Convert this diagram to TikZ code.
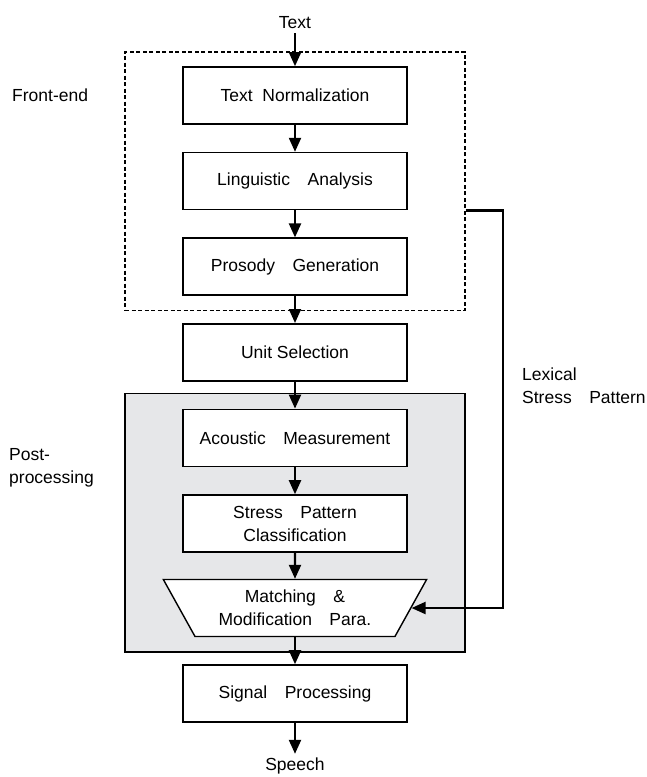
\documentclass[tikz,border=0pt]{standalone}
\usepackage{fontspec}
\setmainfont{Liberation Sans}
\usetikzlibrary{positioning, fit, backgrounds, shapes.geometric, arrows.meta}

\definecolor{postgray}{HTML}{E6E7E9}

\begin{document}
\begin{tikzpicture}[
			x=1pt, y=1pt,
			font=\fontsize{17.5}{23}\selectfont,
			node distance=27pt,
			block/.style={draw, rectangle, line width=1.6pt, align=center, minimum width=224pt, minimum height=57pt},
			trap/.style={draw, trapezium, shape border rotate=180, trapezium stretches=true, trapezium left angle=56, trapezium right angle=56, line width=1.4pt, fill=white, align=center, minimum width=264pt, minimum height=57pt, inner sep=0pt},
			frame/.style={draw, rectangle, line width=1.6pt, inner xsep=57pt, inner ysep=14.5pt},
			lbl/.style={inner sep=0pt, align=left, anchor=west},
			arr/.style={-{Triangle[width=12pt,length=14pt]}, line width=2.2pt},
		]
			\useasboundingbox (0,0) rectangle (646,-777);

			% main chain
			\node[block] (norm) at (295,-95.5) {Text~~Normalization};
			\node[block, below=of norm] (ling) {Linguistic\quad Analysis};
			\node[block, below=of ling] (prosody) {Prosody\quad Generation};
			\node[block, below=of prosody] (unit) {Unit Selection};
			\node[block, fill=white, below=of unit] (acoustic) {Acoustic\quad Measurement};
			\node[block, fill=white, below=of acoustic] (stress) {Stress\quad Pattern\\Classification};
			\node[trap, below=26pt of stress] (match) {Matching\quad\&\\Modification\quad Para.};
			\node[block, below=of match] (signal) {Signal\quad Processing};

			\node[inner sep=4pt, above=33pt of norm] (input) {Text};
			\node[inner sep=4pt, below=31pt of signal] (output) {Speech};

			% frames round the two stages
			\node[frame, dashed, dash pattern=on 4pt off 2.5pt, fit=(norm)(ling)(prosody)] (front) {};
			\begin{scope}[on background layer]
				\node[frame, fill=postgray, inner ysep=15pt, fit=(acoustic)(stress)(match.south)] (post) {};
			\end{scope}

			\node[lbl] (frontlbl) at (12,-95) {Front-end};
			\node[lbl] (postlbl) at (9,-468) {Post-\\processing};
			\node[lbl] (lexlbl) at (522,-385.5) {Lexical\\Stress\quad Pattern};

			\draw[arr] (input) -- (norm);
			\draw[arr] (norm) -- (ling);
			\draw[arr] (ling) -- (prosody);
			\draw[arr] (prosody) -- (unit);
			\draw[arr] (unit) -- (acoustic);
			\draw[arr] (acoustic) -- (stress);
			\draw[arr] (stress) -- (match);
			\draw[arr] (match.south) -- (signal);
			\draw[arr] (signal) -- (output);

			% lexical stress feedback
			\coordinate (lex) at (front.east |- ling.south);
			\draw[arr] (lex) -- ++(37,0) |- (match.east);
		\end{tikzpicture}
\end{document}
